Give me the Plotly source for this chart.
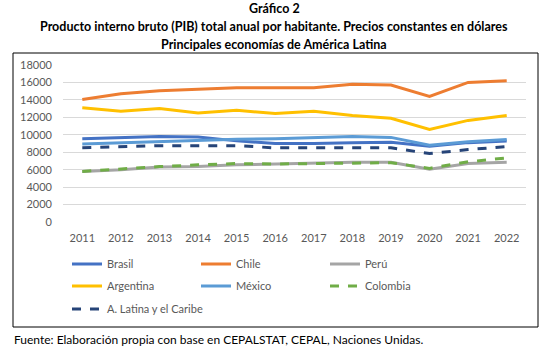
import plotly.graph_objects as go

years = ["2011","2012","2013","2014","2015","2016","2017","2018","2019","2020","2021","2022"]
brasil    = [9550, 9700, 9800, 9750, 9300, 9000, 9000, 9100, 9150, 8700, 9100, 9300]
chile     = [14050, 14700, 15050, 15200, 15400, 15400, 15400, 15800, 15700, 14400, 16000, 16200]
peru      = [5800, 6000, 6300, 6350, 6550, 6650, 6700, 6850, 6850, 6050, 6700, 6850]
argentina = [13100, 12700, 13000, 12500, 12800, 12450, 12700, 12200, 11900, 10600, 11650, 12200]
mexico    = [8950, 9100, 9200, 9400, 9500, 9550, 9700, 9800, 9700, 8800, 9200, 9450]
colombia  = [5800, 6100, 6350, 6550, 6700, 6650, 6700, 6800, 6800, 6150, 6900, 7350]
alc       = [8500, 8650, 8750, 8750, 8750, 8500, 8500, 8500, 8500, 7850, 8300, 8650]

series = [
    ("Brasil", brasil, "#4472C4", "solid", "legend"),
    ("Chile", chile, "#ED7D31", "solid", "legend"),
    ("Perú", peru, "#A5A5A5", "solid", "legend"),
    ("Argentina", argentina, "#FFC000", "solid", "legend2"),
    ("México", mexico, "#5B9BD5", "solid", "legend2"),
    ("Colombia", colombia, "#70AD47", "dash", "legend2"),
    ("A. Latina y el Caribe", alc, "#264478", "dash", "legend3"),
]

fig = go.Figure()
for name, vals, col, dash, leg in series:
    fig.add_trace(go.Scatter(x=years, y=vals, name=name, mode="lines", legend=leg,
                             line=dict(color=col, width=3, dash=dash)))

L, R, T, B = 63, 22, 65, 128
W, H = 548, 350
pw, ph = W - L - R, H - T - B
def px(x): return (x - L) / pw
def py(y): return (H - B - y) / ph

font = "Lato, 'Open Sans', sans-serif"

def leg(ypix, ew=84):
    return dict(orientation="h", x=px(67), y=py(ypix), xanchor="left", yanchor="middle",
                entrywidth=ew, entrywidthmode="pixels", tracegroupgap=0,
                font=dict(size=11, color="#595959"), bgcolor="rgba(0,0,0,0)")

fig.update_layout(
    width=W, height=H, margin=dict(l=L, r=R, t=T, b=B),
    paper_bgcolor="white", plot_bgcolor="white",
    font=dict(family=font, size=11, color="#595959"),
    xaxis=dict(type="category", range=[-0.5, 11.5], showgrid=False, showline=False, ticks="",
               ticklabelstandoff=8, tickfont=dict(size=11, color="#595959")),
    yaxis=dict(range=[0, 18000], dtick=2000, tickformat="d", showgrid=True, gridcolor="#D9D9D9",
               gridwidth=1, zeroline=False, showline=False, ticks="", ticklabelstandoff=10,
               tickfont=dict(size=11, color="#595959")),
    showlegend=True,
    legend=leg(264), legend2=leg(286), legend3=leg(309, 160),
)

fig.add_shape(type="rect", xref="paper", yref="paper",
              x0=px(13), x1=px(538), y0=py(327), y1=py(53),
              line=dict(color="black", width=1), fillcolor="rgba(0,0,0,0)", layer="below")

titles = [("Gráfico 2", 8), ("Producto interno bruto (PIB) total anual por habitante. Precios constantes en dólares", 26),
          ("Principales economías de América Latina", 44)]
for txt, y in titles:
    fig.add_annotation(text="<b>" + txt + "</b>", xref="paper", yref="paper",
                       x=px(274), y=py(y), xanchor="center", yanchor="middle",
                       showarrow=False, font=dict(family=font, size=12.5, color="black"))

fig.add_annotation(text="Fuente: Elaboración propia con base en CEPALSTAT, CEPAL, Naciones Unidas.",
                   xref="paper", yref="paper", x=px(12), y=py(339), xanchor="left", yanchor="middle",
                   showarrow=False, font=dict(family=font, size=12, color="black"))

fig.write_html("out.html")
